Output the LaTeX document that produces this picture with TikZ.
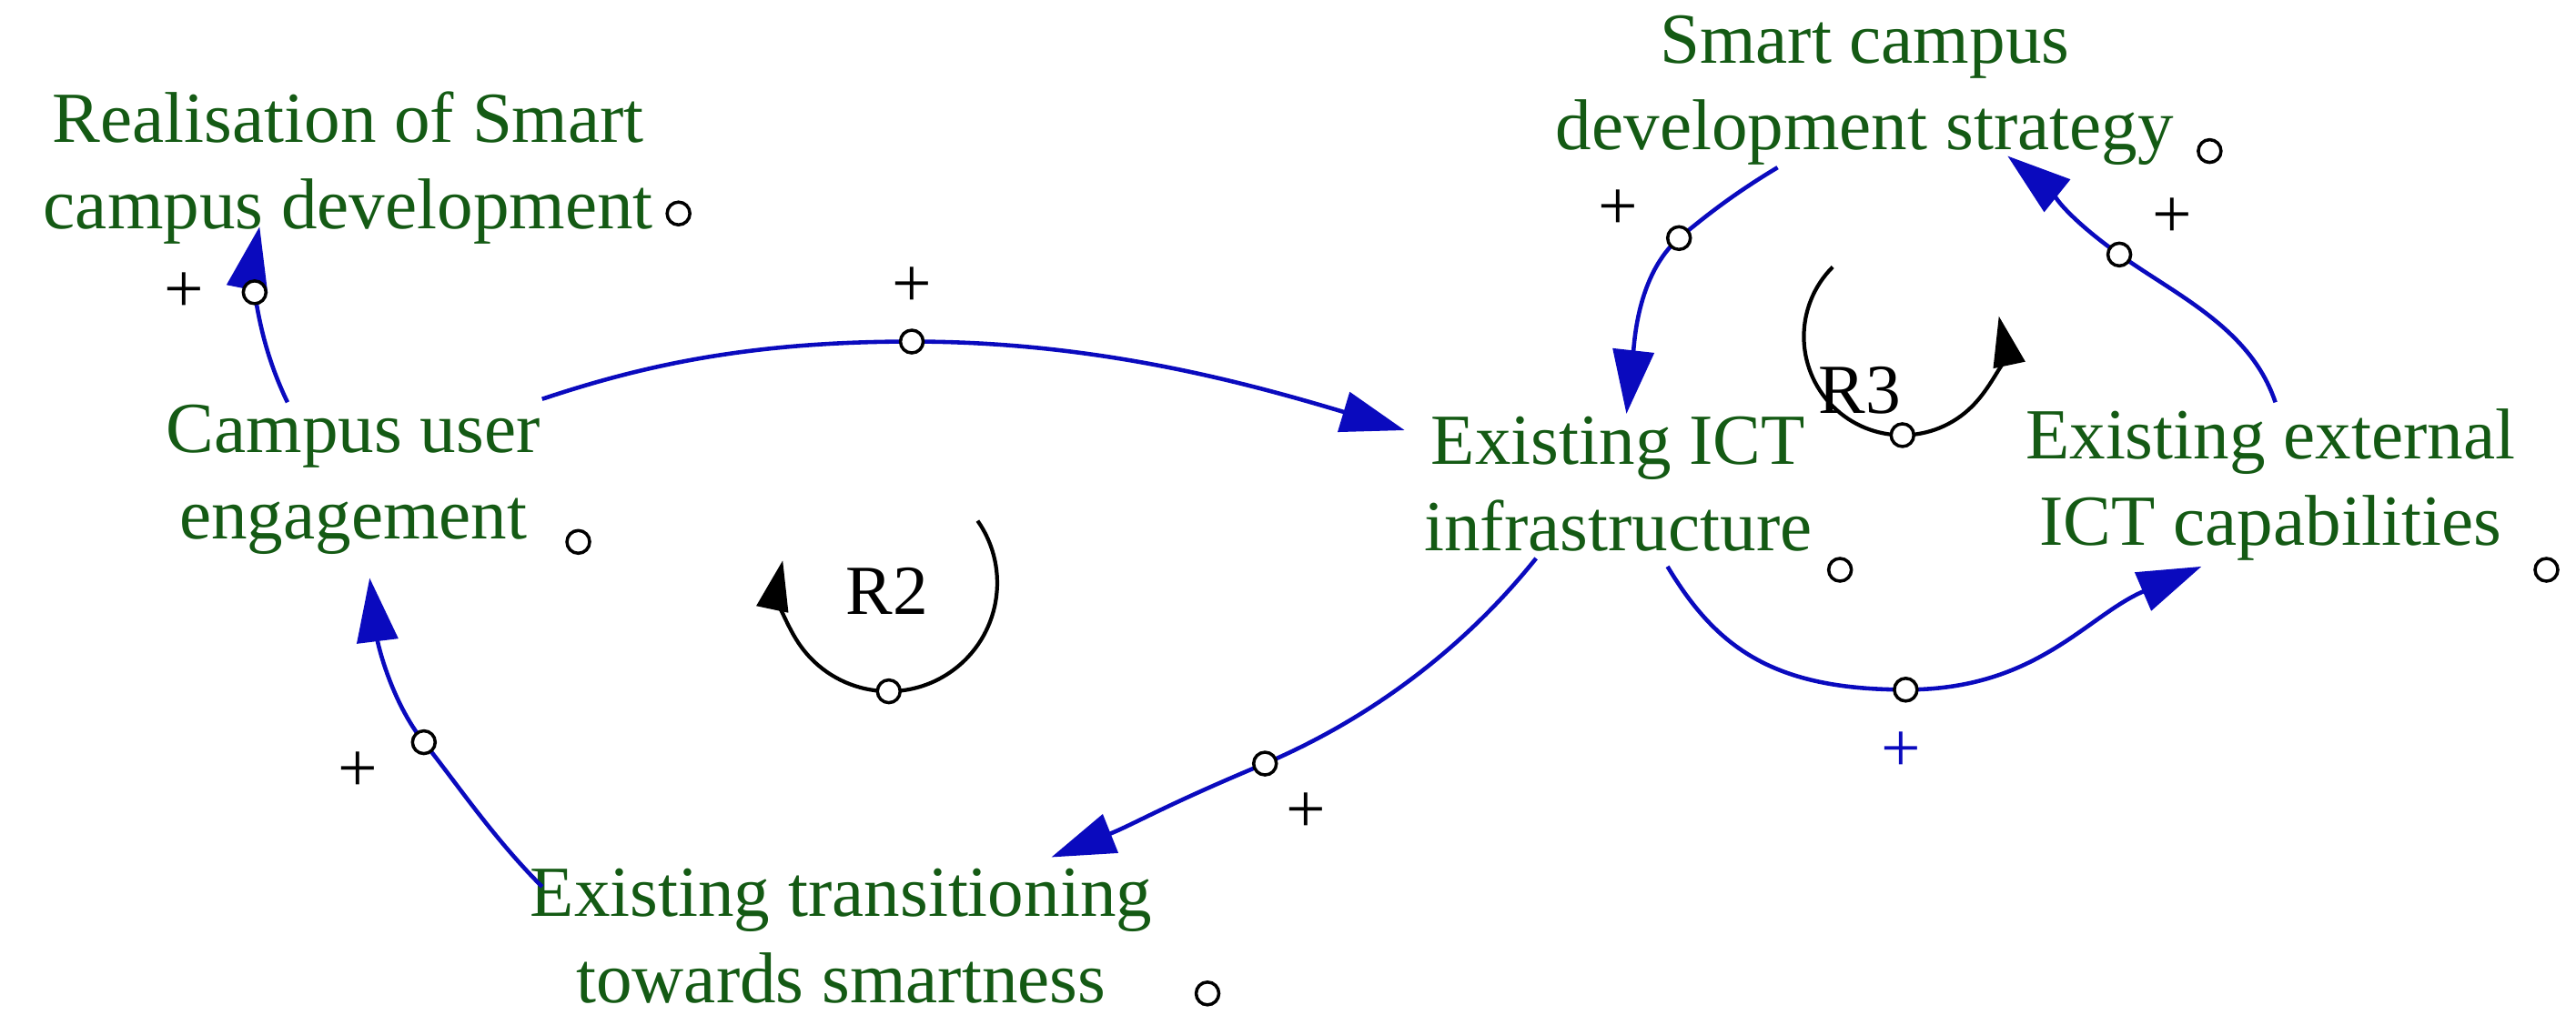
\documentclass[tikz,border=0pt]{standalone}
\usepackage{fontspec}
\setmainfont{Liberation Serif}
\usetikzlibrary{arrows.meta}
\definecolor{tg}{RGB}{20,90,20}
\definecolor{ab}{RGB}{10,10,190}
\begin{document}
\begin{tikzpicture}[x=0.01805cm,y=-0.01805cm,
  var/.style={text=tg,font=\fontsize{22.5}{27}\selectfont,align=center,inner sep=0},
  sm/.style={circle,draw=black,line width=1pt,fill=white,minimum size=0.25cm,inner sep=0},
  pl/.style={font=\fontsize{22}{26}\selectfont,inner sep=0},
  arr/.style={draw=ab,line width=1.3pt,-{Triangle[length=0.7cm,width=0.45cm]}},
  loopa/.style={draw=black,line width=1.2pt,-{Triangle[length=0.55cm,width=0.35cm]}}]
\useasboundingbox (0,0) rectangle (1568,617.6);
\node[var] (real) at (212,102) {Realisation of Smart\\campus development};
\node[var] (strat) at (1135,55) {Smart campus\\development strategy};
\node[var] (camp) at (215,292) {Campus user\\engagement};
\node[var] (ict) at (985,295) {Existing ICT\\infrastructure};
\node[var] (ext) at (1382,295) {Existing external\\ICT capabilities};
\node[var] (trans) at (512,570) {Existing transitioning\\towards smartness};
\foreach \n/\p in {o1/{(413,130)},o2/{(1345,92)},o3/{(352,330)},o4/{(1120,347)},o5/{(1550,347)},o6/{(735,605)}}
  \node[sm] (\n) at \p {};
\coordinate (e1) at (158,138);
\coordinate (e2) at (855,262);
\coordinate (e3) at (640,522);
\coordinate (e4) at (225,352);
\coordinate (e5) at (990,252);
\coordinate (e6) at (1340,345);
\coordinate (e7) at (1222,95);
\coordinate (s1) at (175,245);
\coordinate (s2) at (330,243);
\coordinate (s3) at (935,340);
\coordinate (s4) at (330,540);
\coordinate (s5) at (1082,102);
\coordinate (s6) at (1015,345);
\coordinate (s7) at (1385,245);
\path[arr] (s1) .. controls +(-12,-25) and +(3,20) .. (155,178) .. controls +(-3,-20) and +(-3,15) .. (e1);
\path[arr] (s2) .. controls +(60,-20) and +(-100,0) .. (555,208) .. controls +(110,0) and +(-100,-30) .. (e2);
\path[arr] (s3) .. controls +(-40,50) and +(70,-30) .. (770,465) .. controls +(-60,25) and +(50,-20) .. (e3);
\path[arr] (s4) .. controls +(-30,-30) and +(20,25) .. (258,452) .. controls +(-20,-25) and +(5,40) .. (e4);
\path[arr] (s5) .. controls +(-25,15) and +(18,-15) .. (1022,145) .. controls +(-25,22) and +(5,-45) .. (e5);
\path[arr] (s6) .. controls +(30,50) and +(-80,0) .. (1160,420) .. controls +(80,0) and +(-70,30) .. (e6);
\path[arr] (s7) .. controls +(-15,-45) and +(35,25) .. (1290,155) .. controls +(-35,-25) and +(25,20) .. (e7);
\foreach \n/\p in {m1/{(155,178)},m2/{(555,208)},m3/{(770,465)},m4/{(258,452)},m5/{(1022,145)},m6/{(1160,420)},m7/{(1290,155)}}
  \node[sm] (\n) at \p {};
\node[pl] (p1) at (112,178) {+};
\node[pl] (p2) at (555,175) {+};
\node[pl] (p3) at (795,495) {+};
\node[pl] (p4) at (218,470) {+};
\node[pl] (p5) at (985,128) {+};
\node[pl,text=ab] (p6) at (1157,458) {+};
\node[pl] (p7) at (1322,133) {+};
\draw[loopa] (541,355) ++(-35:66) arc[start angle=-35,end angle=192,radius=66];
\node[sm] (l2) at (541,421) {};
\node[pl] (r2) at (540,360) {R2};
\draw[loopa] (1158,205) ++(-135:60) arc[start angle=-135,end angle=-372,radius=60];
\node[sm] (l3) at (1158,265) {};
\node[pl] (r3) at (1132,238) {R3};
\end{tikzpicture}
\end{document}
